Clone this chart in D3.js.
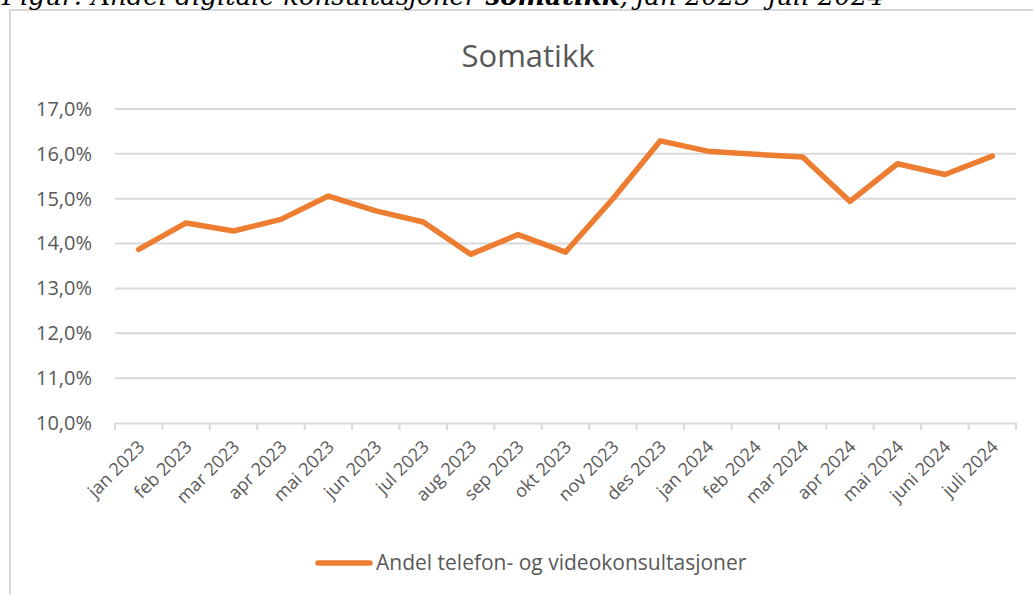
<!DOCTYPE html>
<html>
<head>
<meta charset="utf-8">
<script src="https://cdn.jsdelivr.net/npm/d3@7"></script>
<style>
  body { margin: 0; background: #fff; }
  svg { display: block; }
</style>
</head>
<body>
<div id="chart"></div>
<script>
const WIDTH = 1033
const HEIGHT = 595
const LINE_COLOR = '#ED7D31'
const GRID_COLOR = '#D9D9D9'
const TEXT_COLOR = '#595959'
const FONT = '"Open Sans", Lato, sans-serif'

// data
const months = ['jan 2023', 'feb 2023', 'mar 2023', 'apr 2023', 'mai 2023', 'jun 2023',
  'jul 2023', 'aug 2023', 'sep 2023', 'okt 2023', 'nov 2023', 'des 2023',
  'jan 2024', 'feb 2024', 'mar 2024', 'apr 2024', 'mai 2024', 'juni 2024', 'juli 2024']
const share = [13.87, 14.46, 14.28, 14.54, 15.06, 14.73, 14.48, 13.76, 14.20, 13.81,
  15.0, 16.29, 16.06, 15.99, 15.93, 14.94, 15.78, 15.54, 15.95]
const yTicks = [10, 11, 12, 13, 14, 15, 16, 17]
const seriesName = 'Andel telefon- og videokonsultasjoner'

var svg = d3.select('#chart').append('svg')
  .attr('width', WIDTH)
  .attr('height', HEIGHT)

var margin = {top: 109, right: 17, bottom: 172, left: 115}

// outer chart frame (cut by the page edge on right and bottom)
svg.append('rect')
  .attr('x', 10)
  .attr('y', 10)
  .attr('width', WIDTH)
  .attr('height', HEIGHT)
  .attr('fill', 'none')
  .attr('stroke', GRID_COLOR)
  .attr('stroke-width', 2)

// caption above the frame, cut by the top edge as in the original
var caption = svg.append('text')
  .attr('x', 2)
  .attr('y', 5)
  .attr('font-family', '"DejaVu Serif", serif')
  .attr('font-style', 'italic')
  .attr('font-size', 26)
  .attr('fill', '#000')
caption.append('tspan').text('Figur: Andel digitale konsultasjoner ')
caption.append('tspan').attr('font-weight', 'bold').text('somatikk')
caption.append('tspan').text(', jan 2023- juli 2024')

var xScale = d3.scaleBand()
  .domain(months)
  .range([margin.left, WIDTH - margin.right])

var yScale = d3.scaleLinear()
  .domain([10, 17])
  .range([HEIGHT - margin.bottom, margin.top])

// gridlines
svg.append('g')
  .selectAll('line')
  .data(yTicks.slice(1))
  .join('line')
  .attr('x1', margin.left)
  .attr('x2', WIDTH - margin.right)
  .attr('y1', d => yScale(d))
  .attr('y2', d => yScale(d))
  .attr('stroke', GRID_COLOR)
  .attr('stroke-width', 2)

// y axis labels
var yAxis = svg.append('g')
  .attr('transform', 'translate(' + margin.left + ',0)')
  .call(d3.axisLeft(yScale).tickValues(yTicks).tickSize(0).tickPadding(23)
    .tickFormat(d => d3.format('.1f')(d).replace('.', ',') + '%'))
yAxis.select('.domain').remove()
yAxis.selectAll('text')
  .attr('fill', TEXT_COLOR)
  .attr('font-family', FONT)
  .attr('font-size', 20)

// x axis
var xAxis = svg.append('g')
  .attr('transform', 'translate(0,' + yScale(10) + ')')
  .call(d3.axisBottom(xScale).tickSize(0).tickPadding(0))
xAxis.select('.domain')
  .attr('stroke', GRID_COLOR)
  .attr('stroke-width', 2)
xAxis.selectAll('.tick line').remove()
xAxis.selectAll('.tick text')
  .attr('fill', TEXT_COLOR)
  .attr('font-family', FONT)
  .attr('font-size', 18)
  .attr('text-anchor', 'end')
  .attr('dy', 0)
  .attr('transform', 'translate(7,25) rotate(-45)')

// x tick marks at category boundaries
var bounds = months.map(m => xScale(m)).concat([WIDTH - margin.right])
xAxis.append('g')
  .selectAll('line')
  .data(bounds)
  .join('line')
  .attr('x1', d => d)
  .attr('x2', d => d)
  .attr('y1', 0)
  .attr('y2', 7)
  .attr('stroke', GRID_COLOR)
  .attr('stroke-width', 2)

// the line
var line = d3.line()
  .x((d, i) => xScale(months[i]) + xScale.bandwidth() / 2)
  .y(d => yScale(d))

svg.append('path')
  .datum(share)
  .attr('d', line)
  .attr('fill', 'none')
  .attr('stroke', LINE_COLOR)
  .attr('stroke-width', 5.5)
  .attr('stroke-linejoin', 'round')
  .attr('stroke-linecap', 'round')

// title
svg.append('text')
  .attr('x', 528)
  .attr('y', 67)
  .attr('text-anchor', 'middle')
  .attr('font-family', FONT)
  .attr('font-size', 31)
  .attr('fill', TEXT_COLOR)
  .text('Somatikk')

// legend
svg.append('line')
  .attr('x1', 318)
  .attr('x2', 370)
  .attr('y1', 563)
  .attr('y2', 563)
  .attr('stroke', LINE_COLOR)
  .attr('stroke-width', 5.5)
  .attr('stroke-linecap', 'round')
svg.append('text')
  .attr('x', 376)
  .attr('y', 570)
  .attr('font-family', FONT)
  .attr('font-size', 21)
  .attr('fill', TEXT_COLOR)
  .text(seriesName)
</script>
</body>
</html>
